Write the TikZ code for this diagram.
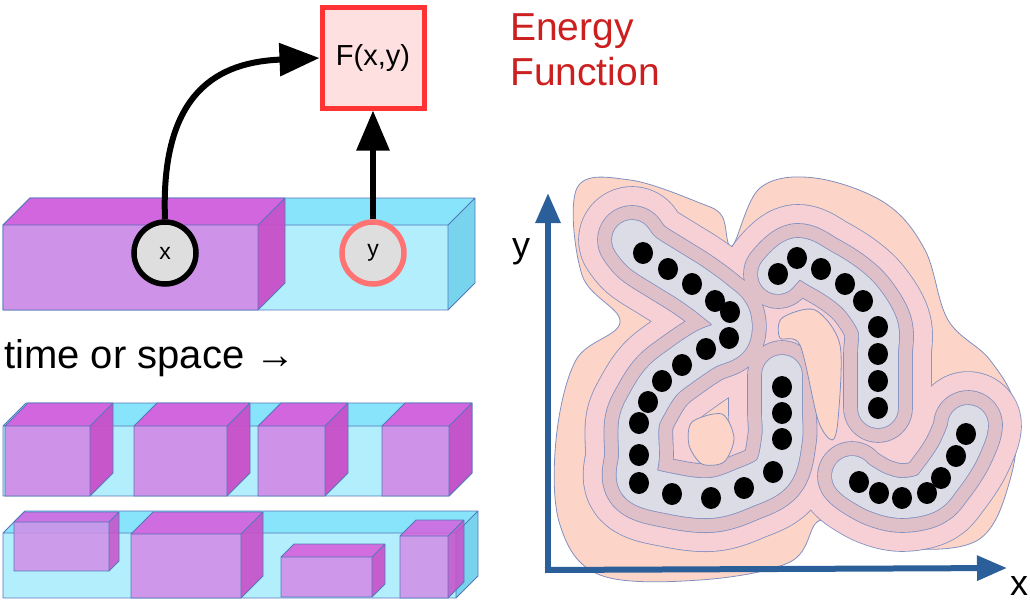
\documentclass[tikz,border=0pt]{standalone}
\usepackage{fontspec}
\setmainfont{Liberation Sans}
\usetikzlibrary{arrows.meta,calc}
\definecolor{pf}{HTML}{D18EE8}\definecolor{pt}{HTML}{D660DE}\definecolor{ps}{HTML}{C94EC8}
\definecolor{cf}{HTML}{B3EEFC}\definecolor{ct}{HTML}{88E4FB}\definecolor{cs}{HTML}{78D4EC}
\definecolor{edge}{HTML}{5577BB}\definecolor{ax}{HTML}{2A5F9A}
\definecolor{peach}{HTML}{FDD5C8}\definecolor{pink}{HTML}{F6D0D4}\definecolor{mauve}{HTML}{E0C0C8}\definecolor{lav}{HTML}{DCDCE6}
\definecolor{cl}{HTML}{8090C0}\definecolor{ered}{HTML}{CC1F1F}
\tikzset{
  edg/.style={draw=edge,line width=0.8pt,line join=round},
  band/.style={line cap=round,line join=round},
  big/.style={line width=6pt,-{Triangle[length=40pt,width=32pt]}},
}
% box: #1 x0, #2 y-top-front, #3 x1, #4 y-bottom, #5 offset, #6 front #7 top #8 side, #9 opacity
\newcommand{\mybox}[9]{%
  \fill[#6,opacity=#9] (#1,#2) rectangle (#3,#4);
  \fill[#7,opacity=#9] (#1,#2) -- ++(#5,-#5) -- ({#3+#5},{#2-#5}) -- (#3,#2) -- cycle;
  \fill[#8,opacity=#9] (#3,#2) -- ++(#5,-#5) -- ({#3+#5},{#4-#5}) -- (#3,#4) -- cycle;
  \draw[edg] (#1,#2) rectangle (#3,#4) (#1,#2) -- ++(#5,-#5) -- ({#3+#5},{#2-#5}) -- ({#3+#5},{#4-#5}) -- (#3,#4) (#3,#2) -- ++(#5,-#5);}
\begin{document}
\begin{tikzpicture}[x=1pt,y=-1pt]
\useasboundingbox (0,0) rectangle (1030,602);
% top bar
\mybox{3}{225}{448}{310}{27}{cf}{ct}{cs}{1}
\mybox{3}{225}{258}{310}{27}{pf}{pt}{ps}{0.95}
% row 1
\mybox{3}{426}{449}{496}{23}{cf}{ct}{cs}{1}
\mybox{5}{426}{90}{496}{23}{pf}{pt}{ps}{0.95}
\mybox{134}{426}{227}{496}{23}{pf}{pt}{ps}{0.95}
\mybox{258}{426}{325}{496}{23}{pf}{pt}{ps}{0.95}
\mybox{382}{426}{449}{496}{23}{pf}{pt}{ps}{0.95}
% row 2
\mybox{3}{533}{456}{598}{22}{cf}{ct}{cs}{1}
\mybox{14}{522}{109}{571}{10}{pf}{pt}{ps}{0.85}
\mybox{131}{534}{241}{598}{22}{pf}{pt}{ps}{0.9}
\mybox{281}{557}{372}{597}{13}{pf}{pt}{ps}{0.9}
\mybox{400}{536}{448}{598}{16}{pf}{pt}{ps}{0.85}
% nodes
\node[draw=black,line width=5.5pt,fill=black!13,circle,minimum size=62pt,inner sep=0pt,font=\fontsize{23}{27}\selectfont] (x) at (165,253) {x};
\node[draw=red!55!white,line width=5.5pt,fill=black!13,circle,minimum size=62pt,inner sep=0pt,font=\fontsize{23}{27}\selectfont] (y) at (373,253) {y};
\node[draw=red!80!white,line width=5pt,fill=red!12,minimum width=102pt,minimum height=100pt,inner sep=0pt,font=\fontsize{29}{34}\selectfont] (F) at (373,58) {F(x,y)};
\draw[big] (y.north) -- (F.south);
\draw[big] (x.north) .. controls (160,90) and (220,62) .. (F.west);
\node[anchor=north west,text=ered,align=left,font=\fontsize{39}{45}\selectfont,inner sep=0pt] (E) at (510,13) {Energy\\Function};
\node[anchor=west,font=\fontsize{40}{46}\selectfont,inner sep=0pt] (T) at (4,358) {time or space →};
% energy landscape
\draw[fill=peach,draw=cl,line width=0.8pt] plot[smooth cycle,tension=0.6] coordinates{
 (577,188) (630,180) (700,203) (722,216) (732,246) (760,188) (815,178) (885,203) (925,250) (948,320) (990,360) (1016,410) (1010,480) (978,540) (900,548) (840,528) (817,522) (790,562) (700,580) (600,575) (560,525) (556,440) (576,360) (620,322) (582,275)};
\def\chA{(632,240) (643,253) (668,269) (692,284) (715,301) (730,316) (729,338) (706,349) (682,365) (662,381) (648,402) (639,423) (639,455) (639,483) (672,494) (711,498) (744,488) (773,472) (782,439) (782,413) (782,387) (782,375)}
\def\chB{(778,274) (797,258) (821,269) (845,284) (863,301) (878,327) (878,354) (878,381) (878,408)}
\def\chC{(968,425) (966,434) (956,456) (941,478) (927,493) (902,498) (879,493) (859,482) (852,476)}
\foreach \w/\c in {106/pink,68/mauve,40/lav}{
  \foreach \p in {\chA,\chB,\chC}{\draw[band,cl,line width=\w pt+1.6pt] plot[smooth,tension=0.6] coordinates{\p};}
  \foreach \p in {\chA,\chB,\chC}{\draw[band,\c,line width=\w pt] plot[smooth,tension=0.6] coordinates{\p};}
}
\fill[peach,draw=cl,line width=0.8pt] plot[smooth cycle] coordinates{(692,422) (722,414) (734,438) (724,462) (702,464) (689,445)};
\fill[peach,draw=cl,line width=0.8pt] plot[smooth cycle] coordinates{(782,318) (815,310) (840,345) (838,420) (832,440) (818,420) (800,345) (780,338)};
\foreach \p in {(643,253),(668,269),(692,284),(715,301),(730,312),(729,338),(706,349),(682,365),(662,381),(648,402),(639,423),(639,455),(639,483),(672,494),(711,498),(744,488),(773,472),(782,439),(782,413),(782,387),
 (778,274),(797,258),(821,269),(845,284),(863,301),(878,327),(878,354),(878,381),(878,408),
 (966,434),(956,456),(941,478),(927,493),(902,498),(879,493),(859,482)}
  \fill[black] \p ellipse[x radius=10,y radius=11];
% axes
\coordinate (O) at (548,570); \coordinate (Yt) at (548,193); \coordinate (Xt) at (1007,568);
\draw[ax,line width=6pt,-{Triangle[length=30pt,width=24pt]}] (O) -- (Yt);
\draw[ax,line width=6pt,-{Triangle[length=30pt,width=24pt]}] ($(O)+(-3,0)$) -- (Xt);
\node[font=\fontsize{36}{42}\selectfont] (yl) at (521,252) {y};
\node[font=\fontsize{36}{42}\selectfont] (xl) at (1019,586) {x};
\end{tikzpicture}
\end{document}
